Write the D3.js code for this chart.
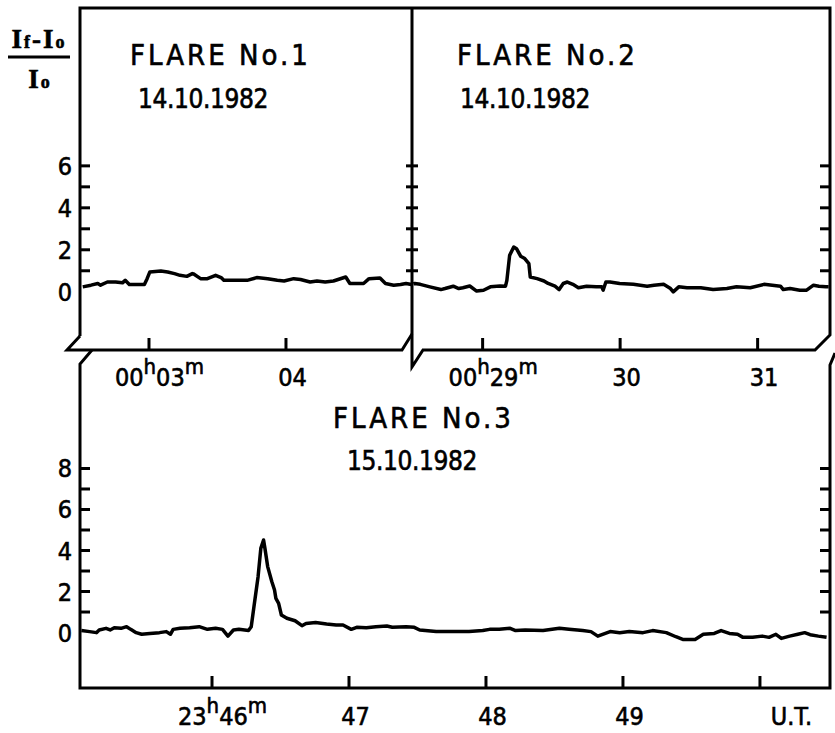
<!DOCTYPE html>
<html>
<head>
<meta charset="utf-8">
<script src="https://cdnjs.cloudflare.com/ajax/libs/d3/7.8.5/d3.min.js"></script>
<style>
  body { margin: 0; background: #fff; }
  svg { display: block; }
  text { font-family: 'DejaVu Sans Condensed', 'DejaVu Sans', sans-serif; font-stretch: condensed; fill: #000; stroke: #000; stroke-width: 0.6; }
  .tick line { stroke: #000; stroke-width: 3; }
  .frame { fill: none; stroke: #000; stroke-width: 3; stroke-linejoin: miter; }
  .curve { fill: none; stroke: #000; stroke-width: 3.5; stroke-linejoin: round; }
</style>
</head>
<body>
<svg class="chart"></svg>
<script>
var titles = ["FLARE No.1", "FLARE No.2", "FLARE No.3"];
var dates = ["14.10.1982", "14.10.1982", "15.10.1982"];

// time in minutes after the hour, value = (If - Io) / Io
var flare1Min = [2.52, 2.58, 2.63, 2.65, 2.70, 2.76, 2.81, 2.83, 2.86, 2.97, 2.99, 3.01, 3.09, 3.14, 3.19,
    3.23, 3.28, 3.32, 3.33, 3.38, 3.43, 3.49, 3.53, 3.55, 3.62, 3.72, 3.79, 3.87, 3.94, 3.99, 4.06, 4.11,
    4.18, 4.23, 4.29, 4.35, 4.44, 4.47, 4.50, 4.57, 4.61, 4.69, 4.73, 4.79, 4.84, 4.88, 4.92];
var flare1Val = [0.21, 0.29, 0.37, 0.29, 0.44, 0.44, 0.40, 0.52, 0.32, 0.32, 0.60, 0.92, 0.97, 0.92, 0.84,
    0.76, 0.71, 0.84, 0.82, 0.60, 0.60, 0.76, 0.65, 0.52, 0.52, 0.52, 0.65, 0.60, 0.52, 0.49, 0.60, 0.56,
    0.44, 0.49, 0.44, 0.49, 0.68, 0.37, 0.37, 0.37, 0.60, 0.63, 0.37, 0.29, 0.32, 0.37, 0.32];

var flare2Min = [28.50, 28.51, 28.55, 28.62, 28.70, 28.73, 28.79, 28.83, 28.86, 28.91, 28.96, 29.01, 29.06,
    29.13, 29.17, 29.18, 29.20, 29.23, 29.25, 29.28, 29.31, 29.34, 29.35, 29.40, 29.45, 29.48, 29.53, 29.56,
    29.59, 29.62, 29.66, 29.70, 29.76, 29.83, 29.87, 29.88, 29.90, 29.93, 30.00, 30.10, 30.20, 30.25, 30.32,
    30.37, 30.39, 30.43, 30.49, 30.59, 30.68, 30.78, 30.85, 30.95, 31.05, 31.17, 31.19, 31.24, 31.31, 31.36,
    31.41, 31.45, 31.50, 31.52];
var flare2Val = [0.35, 0.37, 0.33, 0.21, 0.08, 0.13, 0.24, 0.13, 0.17, 0.25, 0.01, 0.05, 0.21,
    0.25, 0.24, 0.52, 1.71, 2.11, 2.03, 1.67, 1.56, 1.32, 0.68, 0.60, 0.49, 0.37, 0.24, 0.08,
    0.37, 0.44, 0.33, 0.17, 0.24, 0.21, 0.21, 0.05, 0.44, 0.44, 0.37, 0.33, 0.24, 0.29, 0.33,
    0.13, -0.03, 0.21, 0.17, 0.17, 0.08, 0.13, 0.21, 0.17, 0.33, 0.24, 0.08, 0.13, 0.05, 0.05,
    0.29, 0.24, 0.21, 0.21];

var flare3Min = [45.05, 45.11, 45.16, 45.18, 45.23, 45.26, 45.29, 45.34, 45.38, 45.41, 45.45, 45.49, 45.55,
    45.62, 45.67, 45.70, 45.72, 45.77, 45.84, 45.91, 45.97, 46.03, 46.08, 46.12, 46.16, 46.20, 46.27, 46.29,
    46.31, 46.34, 46.36, 46.38, 46.39, 46.41, 46.44, 46.46, 46.47, 46.49, 46.51, 46.55, 46.61, 46.66, 46.69,
    46.76, 46.84, 46.91, 46.96, 47.02, 47.06, 47.13, 47.20, 47.28, 47.32, 47.42, 47.48, 47.52, 47.64, 47.76,
    47.88, 47.98, 48.03, 48.10, 48.18, 48.22, 48.29, 48.42, 48.54, 48.61, 48.71, 48.77, 48.82, 48.91, 48.98,
    49.05, 49.15, 49.22, 49.32, 49.39, 49.44, 49.53, 49.59, 49.67, 49.72, 49.78, 49.84, 49.88, 49.95, 50.02,
    50.07, 50.12, 50.16, 50.22, 50.28, 50.33, 50.37, 50.43, 50.49];
var flare3Val = [0.07, 0.02, -0.03, 0.10, 0.18, 0.10, 0.21, 0.18, 0.26, 0.13, -0.03, -0.11, -0.07,
    -0.03, 0.02, -0.11, 0.13, 0.18, 0.21, 0.26, 0.13, 0.18, 0.13, -0.20, 0.10, 0.13, 0.07, 0.26,
    1.24, 2.70, 4.08, 4.49, 4.08, 3.19, 2.46, 2.05, 1.64, 1.40, 0.83, 0.67, 0.55, 0.31, 0.42,
    0.46, 0.39, 0.34, 0.34, 0.13, 0.23, 0.21, 0.26, 0.29, 0.23, 0.26, 0.23, 0.10, 0.02, 0.02,
    0.02, 0.07, 0.13, 0.13, 0.18, 0.07, 0.10, 0.07, 0.18, 0.13, 0.07, 0.02, -0.20, 0.02, -0.03,
    0.02, -0.03, 0.07, -0.03, -0.23, -0.36, -0.36, -0.11, -0.07, 0.07, -0.07, -0.11, -0.26, -0.26, -0.20,
    -0.26, -0.11, -0.31, -0.20, -0.11, -0.03, -0.13, -0.20, -0.26];

var ticks1 = [3, 4], labels1 = ["00h03m", "04"];
var ticks2 = [29, 30, 31], labels2 = ["00h29m", "30", "31"];
var ticks3 = [46, 47, 48, 49, 50], labels3 = ["23h46m", "47", "48", "49", ""];
var topMinor = [1, 2, 3, 4, 5, 6], topMajor = [0, 2, 4, 6];
var lowMinor = [1, 2, 3, 4, 5, 6, 7, 8], lowMajor = [0, 2, 4, 6, 8];

function show() {
    'use strict';

    var svg = d3.select(".chart").attr("width", 835).attr("height", 733);

    var yTop = d3.scaleLinear().domain([-2.8, 13.5]).range([350, 8]);
    var yLow = d3.scaleLinear().domain([-2.73, 13.12]).range([688, 363]);
    var x1 = d3.scaleLinear().domain([2.5, 4.92]).range([80, 411.5]);
    var x2 = d3.scaleLinear().domain([28.49, 31.53]).range([412, 830]);
    var x3 = d3.scaleLinear().domain([45.04, 50.515]).range([80, 830]);

    var L = x1.range()[0], M = x2.range()[0], R = x2.range()[1];
    var T = yTop.range()[1], B = yTop.range()[0];
    var T3 = yLow.range()[1], B3 = yLow.range()[0];

    // frame with the axis breaks
    var frame = d3.line();
    svg.append("path").attr("class", "frame")
        .attr("d", frame([[L, B - 14], [L, T], [R, T], [R, B - 15], [R - 15, B], [M + 11, B], [M, B + 17], [M, T]]));
    svg.append("path").attr("class", "frame")
        .attr("d", frame([[L, B - 14], [L - 13, B], [M - 10, B], [M, B - 16]]));
    svg.append("path").attr("class", "frame")
        .attr("d", frame([[L + 12, B], [L, T3 + 1], [L, B3], [R, B3], [R, T3 + 2], [R + 5, B + 3]]));

    function strip(g) { g.select(".domain").remove(); }

    // y ticks
    svg.append("g").attr("transform", "translate(" + L + ",0)")
        .call(d3.axisLeft(yTop).tickValues(topMinor).tickSize(-10).tickFormat("")).call(strip);
    svg.append("g").attr("transform", "translate(" + (M + 6) + ",0)")
        .call(d3.axisLeft(yTop).tickValues(topMinor).tickSize(12).tickFormat("")).call(strip);
    svg.append("g").attr("transform", "translate(" + R + ",0)")
        .call(d3.axisRight(yTop).tickValues(topMinor).tickSize(-10).tickFormat("")).call(strip);
    svg.append("g").attr("transform", "translate(" + L + ",0)")
        .call(d3.axisLeft(yLow).tickValues(lowMinor).tickSize(-10).tickFormat("")).call(strip);
    svg.append("g").attr("transform", "translate(" + R + ",0)")
        .call(d3.axisRight(yLow).tickValues(lowMinor).tickSize(-10).tickFormat("")).call(strip);

    // y labels
    [[yTop, topMajor], [yLow, lowMajor]].forEach(function(p) {
        svg.append("g").attr("transform", "translate(" + L + ",0)")
            .call(d3.axisLeft(p[0]).tickValues(p[1]).tickSize(0).tickPadding(8))
            .call(strip)
            .selectAll("text").attr("font-size", 25).attr("font-family", null).attr("dy", "0.36em");
    });

    // x ticks and labels
    function timeLabel(sel, str) {
        var parts = str.match(/^(\d+)h(\d+)m$/);
        if (!parts) { sel.text(str); return; }
        sel.append("tspan").text(parts[1]);
        sel.append("tspan").attr("dy", -12).attr("font-size", 22).text("h");
        sel.append("tspan").attr("dy", 12).text(parts[2]);
        sel.append("tspan").attr("dy", -12).attr("font-size", 22).text("m");
    }

    [[x1, ticks1, labels1, B, 386], [x2, ticks2, labels2, B, 386], [x3, ticks3, labels3, B3, 725]].forEach(function(p) {
        svg.append("g").attr("transform", "translate(0," + p[3] + ")")
            .call(d3.axisBottom(p[0]).tickValues(p[1]).tickSize(-12).tickFormat("")).call(strip);
        p[1].forEach(function(t, i) {
            var off = p[2][i].indexOf("h") > 0 ? 11 : 7;
            svg.append("text")
                .attr("x", p[0](t) + off).attr("y", p[4])
                .attr("text-anchor", "middle").attr("font-size", 25)
                .call(timeLabel, p[2][i]);
        });
    });
    svg.append("text").attr("x", x3(50) + 32).attr("y", 725)
        .attr("text-anchor", "middle").attr("font-size", 25).text("U.T.");

    // curves
    [[flare1Min, flare1Val, x1, yTop], [flare2Min, flare2Val, x2, yTop], [flare3Min, flare3Val, x3, yLow]].forEach(function(p) {
        var line = d3.line()
            .x(function(d, i) { return p[2](p[0][i]); })
            .y(function(d) { return p[3](d); });
        svg.append("path").attr("class", "curve").attr("d", line(p[1]));
    });

    // titles
    var titlePos = [[130, 65, 138, 108], [457, 65, 460, 108], [333, 428, 347, 470]];
    titles.forEach(function(t, i) {
        svg.append("text").attr("x", titlePos[i][0]).attr("y", titlePos[i][1])
            .attr("font-size", 29).attr("letter-spacing", 3).text(t);
        svg.append("text").attr("x", titlePos[i][2]).attr("y", titlePos[i][3])
            .attr("font-size", 26).attr("letter-spacing", -0.4).text(dates[i]);
    });

    // y axis title  (If - Io) / Io
    var num = svg.append("text").attr("x", 39).attr("y", 48).attr("text-anchor", "middle")
        .attr("letter-spacing", 2)
        .style("font-family", "'Liberation Serif', serif").style("font-weight", "bold").attr("font-size", 27);
    num.append("tspan").text("I");
    num.append("tspan").attr("font-size", 18).text("f");
    num.append("tspan").text("-");
    num.append("tspan").text("I");
    num.append("tspan").attr("font-size", 18).text("o");
    svg.append("line").attr("x1", 8).attr("x2", 70).attr("y1", 57).attr("y2", 57)
        .attr("stroke", "#000").attr("stroke-width", 3);
    var den = svg.append("text").attr("x", 40).attr("y", 88).attr("text-anchor", "middle")
        .attr("letter-spacing", 2)
        .style("font-family", "'Liberation Serif', serif").style("font-weight", "bold").attr("font-size", 27);
    den.append("tspan").text("I");
    den.append("tspan").attr("font-size", 18).text("o");
}

show();
</script>
</body>
</html>
